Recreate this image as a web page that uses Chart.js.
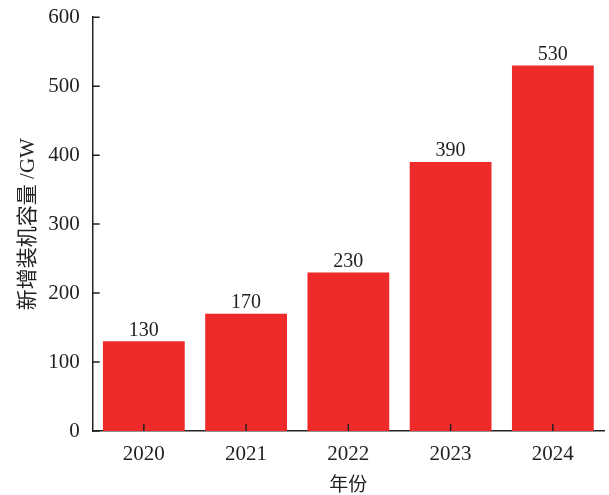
<!DOCTYPE html>
<html>
<head>
<meta charset="utf-8">
<script src="https://cdn.jsdelivr.net/npm/chart.js@4/dist/chart.umd.min.js"></script>
<style>
    html, body { margin: 0; padding: 0; background: #fff; }
    #wrap { width: 609px; height: 495px; }
</style>
</head>
<body>
<div id="wrap"><canvas id="myChart"></canvas></div>
<script>
const years = ['2020', '2021', '2022', '2023', '2024'];
const capacity = [130, 170, 230, 390, 530];
const yTicks = [0, 100, 200, 300, 400, 500, 600];

const serif = '"Liberation Serif", "Times New Roman", serif';
const mixed = '"Liberation Serif", "Noto Sans CJK SC", sans-serif';
const cjk = '"Noto Sans CJK SC", sans-serif';

// inward tick marks on both axes
const innerTicks = {
    id: 'innerTicks',
    afterDraw(chart) {
        const ctx = chart.ctx;
        const x = chart.scales.x;
        const y = chart.scales.y;
        ctx.save();
        ctx.strokeStyle = '#222';
        ctx.lineWidth = 1.5;
        ctx.beginPath();
        y.ticks.forEach((t, i) => {
            const py = y.getPixelForTick(i);
            ctx.moveTo(x.left, py);
            ctx.lineTo(x.left + 7, py);
        });
        x.ticks.forEach((t, i) => {
            const px = x.getPixelForTick(i);
            ctx.moveTo(px, y.bottom);
            ctx.lineTo(px, y.bottom - 7);
        });
        ctx.stroke();
        ctx.restore();
    }
};

// value labels above bars
const barLabels = {
    id: 'barLabels',
    afterDatasetsDraw(chart) {
        const ctx = chart.ctx;
        const meta = chart.getDatasetMeta(0);
        ctx.save();
        ctx.fillStyle = '#222';
        ctx.font = '20px ' + serif;
        ctx.textAlign = 'center';
        ctx.textBaseline = 'bottom';
        meta.data.forEach((bar, i) => {
            ctx.fillText(capacity[i], bar.x, bar.y - 1);
        });
        ctx.restore();
    }
};

const ctx = document.getElementById('myChart').getContext('2d');

const chart = new Chart(ctx, { //eslint-disable-line
    type: 'bar',
    data: {
        labels: years,
        datasets: [
            {
                data: capacity,
                backgroundColor: 'rgb(238, 42, 42)',
                borderWidth: 0,
                categoryPercentage: 0.8,
                barPercentage: 1.0
            }
        ]
    },
    options: {
        responsive: true,
        maintainAspectRatio: false,
        animation: false,
        layout: { padding: { top: 0, right: 5, left: 16, bottom: 0 } },
        plugins: {
            legend: { display: false },
            tooltip: { enabled: false }
        },
        scales: {
            x: {
                grid: { display: false, drawTicks: false },
                border: { color: '#222', width: 1.5 },
                ticks: {
                    color: '#222',
                    font: { family: serif, size: 21 },
                    padding: 11
                },
                title: {
                    display: true,
                    text: '年份',
                    color: '#222',
                    font: { family: cjk, size: 19 },
                    padding: { top: -6, bottom: 0 }
                }
            },
            y: {
                min: 0,
                max: 600,
                afterBuildTicks(scale) {
                    scale.ticks = yTicks.map(v => ({ value: v }));
                },
                grid: { display: false, drawTicks: false },
                border: { color: '#222', width: 1.5 },
                ticks: {
                    color: '#222',
                    font: { family: serif, size: 21, lineHeight: 0.4 },
                    padding: 13
                },
                title: {
                    display: true,
                    text: '新增装机容量 /GW',
                    color: '#222',
                    font: { family: mixed, size: 21 },
                    padding: { top: 0, bottom: -6 }
                }
            }
        }
    },
    plugins: [innerTicks, barLabels]
});
</script>
</body>
</html>
